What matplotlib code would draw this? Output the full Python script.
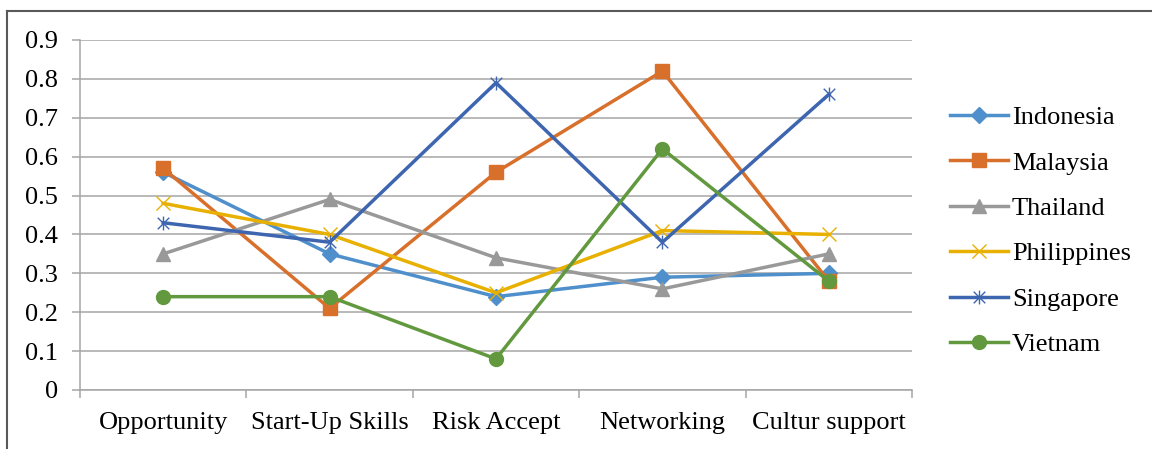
import numpy as np
import matplotlib
matplotlib.use('Agg')
import matplotlib.pyplot as plt
from matplotlib.path import Path
from matplotlib.lines import Line2D

plt.rcParams['font.family'] = ['Liberation Serif', 'DejaVu Serif']

# data
categories = ['Opportunity', 'Start-Up Skills', 'Risk Accept', 'Networking', 'Cultur support']
countries = ['Indonesia', 'Malaysia', 'Thailand', 'Philippines', 'Singapore', 'Vietnam']
indonesia = [0.56, 0.35, 0.24, 0.29, 0.30]
malaysia = [0.57, 0.21, 0.56, 0.82, 0.28]
thailand = [0.35, 0.49, 0.34, 0.26, 0.35]
philippines = [0.48, 0.40, 0.25, 0.41, 0.40]
singapore = [0.43, 0.38, 0.79, 0.38, 0.76]
vietnam = [0.24, 0.24, 0.08, 0.62, 0.28]
yticks = [0, 0.1, 0.2, 0.3, 0.4, 0.5, 0.6, 0.7, 0.8, 0.9]

# Excel style "star" marker: an x with a vertical bar
star = Path([(-1, -1), (1, 1), (-1, 1), (1, -1), (0, -1.2), (0, 1.2)],
            [Path.MOVETO, Path.LINETO, Path.MOVETO, Path.LINETO, Path.MOVETO, Path.LINETO])

series = [
    (indonesia, '#4F8FCB', 'D', 8.5, 1),
    (malaysia, '#D8702C', 's', 9.5, 1),
    (thailand, '#999999', '^', 10, 1),
    (philippines, '#E8B000', 'x', 10, 1),
    (singapore, '#3E66B0', star, 10, 1),
    (vietnam, '#62993E', 'o', 10, 1),
]

fig = plt.figure(figsize=(11.52, 4.49), dpi=100)
ax = fig.add_axes([80 / 1152, 59 / 449, 832 / 1152, 350 / 449])

x = np.arange(len(categories))
for (vals, col, mk, ms, mew), name in zip(series, countries):
    filled = mk not in ('x',) and mk is not star
    ax.plot(x, vals, color=col, lw=2.5, marker=mk, markersize=ms,
            markerfacecolor=col if filled else 'none',
            markeredgecolor=col, markeredgewidth=mew, label=name)

grid_col = '#A6A6A6'
ax.set_xlim(-0.5, len(categories) - 0.5)
ax.set_ylim(0, 0.9)
ax.set_yticks(yticks)
ax.set_yticklabels(['0' if v == 0 else f'{v:.1f}' for v in yticks])
ax.yaxis.grid(True, color=grid_col, lw=1.1)
ax.set_axisbelow(True)

ax.set_xticks(np.arange(-0.5, len(categories), 1.0))
ax.set_xticklabels([])
ax.set_xticks(x, minor=True)
ax.set_xticklabels(categories, minor=True)

ax.tick_params(axis='y', length=6, width=1.1, color=grid_col, pad=10, labelsize=19)
ax.tick_params(axis='x', which='major', length=6, width=1.1, color=grid_col)
ax.tick_params(axis='x', which='minor', length=0, pad=16, labelsize=19)

for s in ['top', 'right']:
    ax.spines[s].set_visible(False)
for s in ['left', 'bottom']:
    ax.spines[s].set_color(grid_col)
    ax.spines[s].set_linewidth(1.1)

leg = fig.legend(loc='center left', bbox_to_anchor=(950 / 1152, 0.4855),
                 frameon=False, fontsize=19, handlelength=2.2, handletextpad=0.15,
                 labelspacing=0.83, borderpad=0, borderaxespad=0)

# outer border lines (left and top only)
fig.add_artist(Line2D([6.5 / 1152, 6.5 / 1152], [0, 1 - 11 / 449], color='#595959', lw=1.5,
                      transform=fig.transFigure))
fig.add_artist(Line2D([6.5 / 1152, 1], [1 - 11 / 449, 1 - 11 / 449], color='#595959', lw=1.5,
                      transform=fig.transFigure))

fig.savefig('out.png', dpi=100)
